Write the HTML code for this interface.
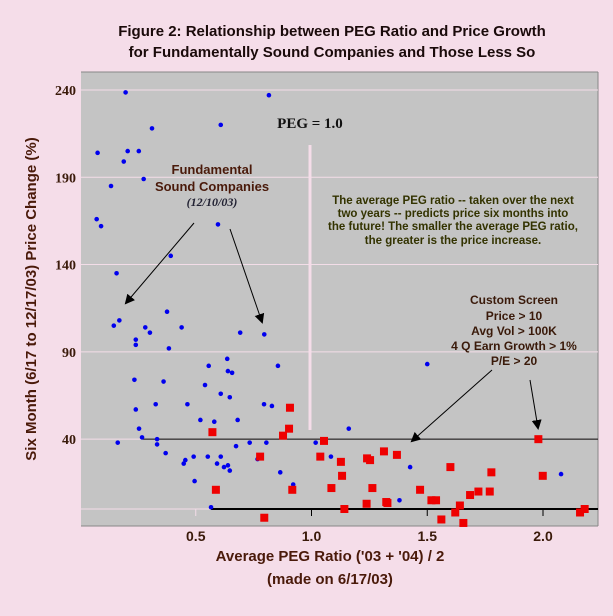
<!DOCTYPE html>
<html><head><meta charset="utf-8"><style>
body{margin:0;background:#f5dde9;}
svg{display:block;font-family:"Liberation Sans",sans-serif;}
</style></head><body>
<svg id="chart" width="613" height="616" viewBox="0 0 613 616" xmlns="http://www.w3.org/2000/svg">
<rect width="613" height="616" fill="#f5dde9"/>
<text x="332" y="36" text-anchor="middle" font-size="15" font-weight="bold" fill="#1a0a0a">Figure 2:  Relationship between PEG Ratio and Price Growth</text>
<text x="332" y="57" text-anchor="middle" font-size="15" font-weight="bold" fill="#1a0a0a">for Fundamentally Sound Companies and Those Less So</text>
<rect x="81" y="72" width="517" height="454" fill="#c4c4c4"/>
<line x1="81" y1="72" x2="598" y2="72" stroke="#888" stroke-width="1"/>
<line x1="81" y1="526" x2="598" y2="526" stroke="#888" stroke-width="1"/>
<line x1="598" y1="72" x2="598" y2="526" stroke="#888" stroke-width="1"/>
<g id="grid"></g>
<line x1="310" y1="145" x2="310" y2="430" stroke="#f5dde9" stroke-width="3"/>
<g id="refs"></g>
<g id="ticks"></g>
<g id="points"></g>
<text x="310" y="128" text-anchor="middle" font-family="Liberation Serif,serif" font-size="15" font-weight="bold" fill="#111">PEG = 1.0</text>
<g fill="#4a1a0a" font-weight="bold" font-size="13" text-anchor="middle">
<text x="212" y="174">Fundamental</text>
<text x="212" y="191">Sound Companies</text>
<text x="212" y="206" font-family="Liberation Serif,serif" font-style="italic" font-size="12" fill="#223">(12/10/03)</text>
</g>
<g fill="#333300" font-weight="bold" font-size="11.5" text-anchor="middle">
<text x="453" y="204">The average PEG ratio -- taken over the next</text>
<text x="453" y="217">two years -- predicts price six months into</text>
<text x="453" y="230">the future!  The smaller the average PEG ratio,</text>
<text x="453" y="244">the greater is the price increase.</text>
</g>
<g fill="#3a1a0a" font-weight="bold" font-size="12" text-anchor="middle">
<text x="514" y="304">Custom Screen</text>
<text x="514" y="320">Price &gt; 10</text>
<text x="514" y="335">Avg Vol &gt; 100K</text>
<text x="514" y="350">4 Q Earn Growth &gt; 1%</text>
<text x="514" y="365">P/E &gt; 20</text>
</g>
<defs><marker id="ah" markerWidth="10" markerHeight="10" refX="8" refY="5" orient="auto" markerUnits="userSpaceOnUse"><path d="M0,0 L10,5 L0,10 z" fill="#000"/></marker></defs>
<g stroke="#000" stroke-width="1" fill="none" marker-end="url(#ah)">
<line x1="194" y1="223" x2="126" y2="303"/>
<line x1="230" y1="229" x2="262" y2="322"/>
<line x1="492" y1="370" x2="412" y2="441"/>
<line x1="530" y1="380" x2="538" y2="428"/>
</g>
<text transform="translate(36,299) rotate(-90)" text-anchor="middle" font-size="15" font-weight="bold" fill="#4a1a0a">Six Month (6/17 to 12/17/03) Price Change (%)</text>
<text x="330" y="561" text-anchor="middle" font-size="15" font-weight="bold" fill="#4a1a0a">Average PEG Ratio ('03 + '04) / 2</text>
<text x="330" y="584" text-anchor="middle" font-size="15" font-weight="bold" fill="#4a1a0a">(made on 6/17/03)</text>
</svg>
<script>
const yTicks = [240, 190, 140, 90, 40];
const xTicks = [0.5, 1.0, 1.5, 2.0];
const xTickLabels = ["0.5", "1.0", "1.5", "2.0"];
const blueX = [0.197,0.816,0.311,0.608,0.076,0.206,0.254,0.189,0.275,0.134,0.072,0.091,0.596,0.392,0.158,0.376,0.146,0.17,0.439,0.282,0.302,0.241,0.241,0.384,0.692,0.796,0.235,0.361,0.556,0.636,0.639,0.657,0.54,0.608,0.647,0.855,0.241,0.327,0.464,0.795,0.829,0.681,0.52,0.58,0.255,0.268,0.333,0.163,0.333,0.733,0.805,0.674,0.37,0.608,0.491,0.552,0.455,0.448,0.592,0.639,0.622,0.647,0.865,0.495,0.921,0.566,0.767,1.018,1.161,1.50,1.084,1.426,1.38,2.078];
const blueY = [238.6,237,218,220,204,205,205,199,189,185,166,162,163,145,135,113,105,108,104,104,101,97,94,92,101,100,74,73,82,86,79,78,71,66,64,82,57,60,60,60,59,51,51,50,46,41,40,38,37,38,38,36,32,30,30,30,28,26,26,25,24,22,21,16,14,1,28.6,38,46,83,30,24,5,20];
const redX = [0.572,0.907,0.903,0.877,0.778,0.587,0.917,0.796,1.054,1.038,1.127,1.132,1.086,1.142,1.24,1.253,1.313,1.369,1.263,1.238,1.323,1.328,1.469,1.518,1.538,1.561,1.60,1.621,1.641,1.656,1.685,1.721,1.77,1.777,1.98,1.999,2.16,2.18];
const redY = [44,58,46,42,30,11,11,-5,39,30,27,19,12,0,29,28,33,31,12,3,4,3.4,11,5,5,-6,24,-2,2,-8,8,10,10,21,40,19,-2,0];
const NS = "http://www.w3.org/2000/svg";
function sx(v){ return 80 + v * 231.5; }
function sy(v){ return 509 - v * 1.746; }
function mk(tag, attrs, parent){ const e = document.createElementNS(NS, tag); for (const k in attrs) e.setAttribute(k, attrs[k]); parent.appendChild(e); return e; }
const grid = document.getElementById('grid');
const ticks = document.getElementById('ticks');
yTicks.forEach(function(t){
  const g = mk('line', {x1:81, x2:598, y1:sy(t), y2:sy(t), stroke:'#f3dde8', 'stroke-width':1}, grid);
  
  
  const l = mk('text', {x:76, y:sy(t)+5, 'text-anchor':'end', 'font-family':'Liberation Serif,serif', 'font-size':14, 'font-weight':'bold', fill:'#3a1a0a'}, ticks);
  l.textContent = t;
  
  
});
const zl = mk('line', {x1:81, x2:598, y1:sy(0), y2:sy(0), stroke:'#f3dde8', 'stroke-width':1}, grid);


const refs = document.getElementById('refs');
const r40 = mk('line', {x1:sx(0.27), x2:598, y1:sy(40), y2:sy(40), stroke:'#000', 'stroke-width':1}, refs);


const r0 = mk('line', {x1:sx(0.566), x2:598, y1:sy(0), y2:sy(0), stroke:'#000', 'stroke-width':2}, refs);


xTicks.forEach(function(t, i){
  const tk = mk('line', {x1:sx(t), x2:sx(t), y1:sy(0), y2:sy(0)+7, stroke: t < 0.566 ? '#f3dde8' : '#000', 'stroke-width':1}, ticks);
  
  
  const l = mk('text', {x:sx(t), y:541, 'text-anchor':'middle', 'font-size':14, 'font-weight':'bold', fill:'#3a1a0a'}, ticks);
  l.textContent = xTickLabels[i];
  
  
});
const pts = document.getElementById('points');
blueX.forEach(function(x, i){
  const c = mk('circle', {cx:sx(x), cy:sy(blueY[i]), r:2.3, fill:'#0000ee'}, pts);
  
  
});
redX.forEach(function(x, i){
  const r = mk('rect', {x:sx(x)-4, y:sy(redY[i])-4, width:8, height:8, fill:'#ee0000'}, pts);
  
  
});
</script>
</body></html>
